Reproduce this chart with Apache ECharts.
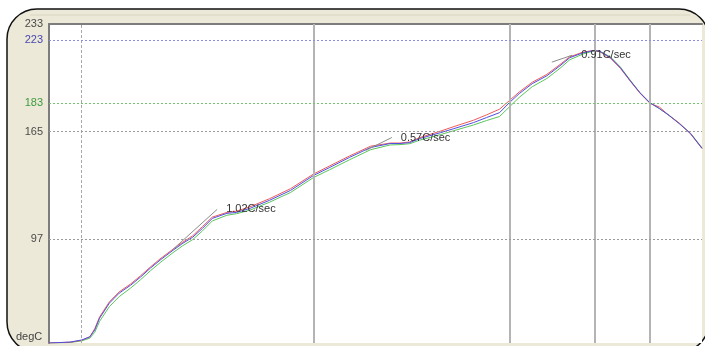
<!DOCTYPE html>
<html>
<head>
<meta charset="utf-8">
<script src="https://cdn.jsdelivr.net/npm/echarts@6/dist/echarts.min.js"></script>
<style>html,body{margin:0;padding:0;background:#fff}#c{width:705px;height:346px}</style>
</head>
<body>
<div id="c"></div>
<script>
// time (s)
var times = [0,13,20,25,28,31,37,43,50,56,62,68,76,82,88,94,100,109,115,123,135,148,162,172,184,197,209,215,221,227,240,248,260,268,276,282,288,296,305,313,319,327,333,337,344,350,356,362,368,374,380,386,393,400];
// degC per thermocouple
var tcRed = [31.5,32.0,33.2,35.5,40.5,48.0,57.5,63.8,68.8,73.9,79.4,84.6,90.8,95.2,99.2,105.0,111.0,114.0,114.8,117.5,122.6,129.0,138.2,143.4,149.6,155.8,157.8,157.8,158.5,161.2,165.4,168.2,172.2,175.6,179.2,184.6,190.0,196.2,201.2,207.4,212.3,215.2,216.2,215.8,211.3,205.0,197.0,189.3,183.0,180.5,175.0,170.5,163.6,154.3];
var tcGreen = [31.5,31.8,32.8,34.6,38.2,45.2,54.5,60.8,66.2,71.4,77.0,82.2,88.6,93.0,96.8,102.3,108.6,112.2,113.2,115.4,120.4,126.6,136.0,141.0,147.2,153.6,156.6,156.8,157.4,159.6,163.2,165.6,169.2,172.0,174.6,180.6,186.6,193.4,198.6,205.0,210.4,214.0,215.8,216.0,212.2,205.8,197.6,189.6,183.3,179.5,175.3,170.3,164.0,154.8];
var tcBlue = [31.5,32.1,33.4,35.3,39.7,47.2,56.7,63.0,68.0,73.1,78.7,83.8,90.1,94.5,98.3,103.9,110.2,113.4,114.0,116.5,121.6,127.9,137.3,142.4,148.7,155.0,157.5,157.5,158.1,160.6,164.4,166.9,170.7,173.9,177.0,183.3,189.0,195.3,200.3,206.6,211.7,214.8,216.1,216.0,211.7,205.4,197.2,189.6,183.3,179.5,175.1,170.1,163.8,154.5];
// slope markers
var slope1 = [[76, 90.7], [103, 115.9]];
var slope2 = [[194, 153.1], [210, 161.3]];
var slope3 = [[308, 208.9], [320.5, 213.3]];
var slopeNames = ['1.02C/sec', '0.57C/sec', '0.91C/sec'];
// y tick labels
var yTicks = [233, 223, 183, 165, 97];
var limitLines = [223, 183, 165, 97];
var zoneLines = [20, 162, 282, 334, 368];

function pairs(v){ return times.map(function(t,i){ return [t, v[i]]; }); }

var chart = echarts.init(document.getElementById('c'), null, {renderer:'canvas'});
var tickColor = {233:'#4a4a4a',223:'#4848b0',183:'#3f9a3f',165:'#4a4a4a',97:'#4a4a4a'};
var limitStyle = {
  223:{color:'#8c8ce0'}, 183:{color:'#74c474'}, 165:{color:'#9a9a9a'}, 97:{color:'#9a9a9a'}
};

function slopeSeries(d, name){
  return {
    type:'line', name:name, data:d, showSymbol:false, silent:true,
    lineStyle:{color:'#8c8c8c', width:1}, z:5,
    endLabel:{show:true, formatter:name, color:'#333', fontSize:11,
      fontFamily:'Liberation Sans, Arial, sans-serif', distance:9}
  };
}

var option = {
  animation:false,
  backgroundColor:'#fff',
  graphic:[
    {type:'rect', z:-100, silent:true, shape:{x:7, y:9, width:702, height:343, r:30},
     style:{fill:'#ece9d8', stroke:'#111', lineWidth:1.5}},
    {type:'line', z:-99, silent:true, shape:{x1:30, y1:15, x2:690, y2:15},
     style:{stroke:'#d9d5c2', lineWidth:1}},
    {type:'text', left:16, top:331, silent:true,
     style:{text:'degC', fill:'#444', font:'11px "Liberation Sans", Arial, sans-serif'}}
  ],
  grid:{left:49, top:24, right:3, bottom:3, show:true, backgroundColor:'#fff', borderWidth:0},
  xAxis:{type:'value', min:0, max:400, position:'top',
    axisLine:{show:true, lineStyle:{color:'#7d7d7d', width:2}},
    axisTick:{show:false}, axisLabel:{show:false}, splitLine:{show:false}},
  yAxis:{type:'value', min:31.5, max:233,
    axisLine:{show:true, lineStyle:{color:'#7d7d7d', width:2}},
    axisTick:{show:false}, splitLine:{show:false},
    axisLabel:{show:true, customValues:yTicks, margin:6, fontSize:11,
      fontFamily:'Liberation Sans, Arial, sans-serif',
      color:function(v){ return tickColor[v] || '#4a4a4a'; },
      formatter:function(v){ return String(v); }}
  },
  series:[
    {type:'line', name:'TC2', data:pairs(tcGreen), showSymbol:false, silent:true,
     lineStyle:{color:'#5cc45c', width:1}, z:3,
     markLine:{silent:true, symbol:'none', label:{show:false},
       data: zoneLines.map(function(x,i){
         return {xAxis:x, lineStyle: i===0 ? {color:'#a8a8a8', type:[3,2], width:1} : {color:'#b4b4b4', type:'solid', width:2}};
       }).concat(limitLines.map(function(y){
         return {yAxis:y, lineStyle:{color:limitStyle[y].color, type:[2,2], width:1}};
       }))
     }},
    {type:'line', name:'TC1', data:pairs(tcRed), showSymbol:false, silent:true,
     lineStyle:{color:'#f05a5a', width:1}, z:3},
    {type:'line', name:'TC3', data:pairs(tcBlue), showSymbol:false, silent:true,
     lineStyle:{color:'#5050e0', width:1}, z:4},
    slopeSeries(slope1, slopeNames[0]),
    slopeSeries(slope2, slopeNames[1]),
    slopeSeries(slope3, slopeNames[2])
  ]
};
chart.setOption(option);
</script>
</body>
</html>
